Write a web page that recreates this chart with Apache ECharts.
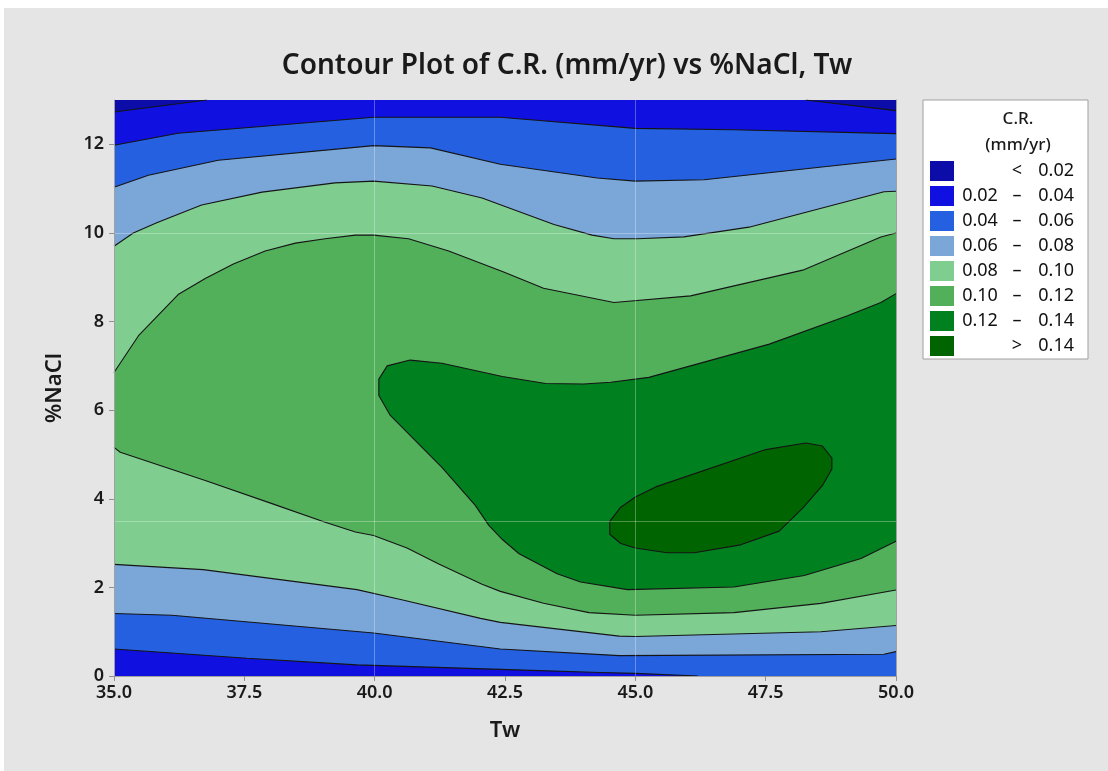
<!DOCTYPE html>
<html><head><meta charset="utf-8">
<script src="https://cdn.jsdelivr.net/npm/echarts@6/dist/echarts.min.js"></script>
<style>html,body{margin:0;padding:0;background:#fff}#c{width:1108px;height:771px}</style>
</head><body><div id="c"></div>
<script>
const chartTitle = 'Contour Plot of C.R. (mm/yr) vs %NaCl, Tw';
const xName = 'Tw', yName = '%NaCl';
const legendTitle = 'C.R.\n(mm/yr)';
const xRange = [35, 50], xStep = 2.5;
const yRange = [0, 13], yStep = 2;
const refX = [40, 45], refY = [10, 3.5];
const bandLabels = [['\u00a0','<','0.02'],['0.02','–','0.04'],['0.04','–','0.06'],['0.06','–','0.08'],
  ['0.08','–','0.10'],['0.10','–','0.12'],['0.12','–','0.14'],['\u00a0','>','0.14']];
const bandColors = ['#0c0ca8','#1010e0','#2460e0','#7ba6d8','#80cd90','#52b05b','#00801f','#006400'];

// contour lines: [Tw, %NaCl]
const c02a = [[35,12.73],[36.78,13]];
const c02b = [[48.27,13],[50,12.76]];
const c04top = [[35,11.98],[36.23,12.25],[38,12.42],[39.98,12.61],[42.41,12.61],[45.0,12.36],[46.89,12.33],[50,12.24]];
const c04bot = [[35,0.61],[37.55,0.40],[39.66,0.25],[42.41,0.15],[44.33,0.08],[45,0.06],[46.2,0]];
const c06top = [[35,11.03],[35.66,11.30],[37.0,11.64],[39.98,11.97],[41.07,11.92],[42.41,11.55],[44.27,11.24],[45.0,11.17],[46.32,11.20],[50,11.67]];
const c06bot = [[35,1.41],[36.11,1.37],[39.98,0.97],[42.41,0.61],[44.69,0.46],[49.77,0.49],[50,0.55]];
const c08top = [[35,9.70],[35.37,10.0],[35.82,10.23],[36.68,10.63],[37.84,10.92],[39.24,11.13],[39.98,11.17],[41.10,11.06],[42.06,10.79],[42.45,10.62],[43.44,10.19],[44.17,9.95],[44.59,9.87],[45.04,9.87],[45.93,9.91],[47.18,10.13],[49.77,10.93],[50,10.94]];
const c08bot = [[35,2.52],[36.71,2.40],[39.66,1.95],[40.56,1.71],[42.03,1.30],[42.41,1.21],[44.69,0.90],[45,0.89],[48.56,1.0],[50,1.14]];
const c10top = [[35,6.85],[35.47,7.68],[36.23,8.61],[36.75,8.97],[37.29,9.30],[37.90,9.59],[38.48,9.77],[39.05,9.87],[39.63,9.95],[39.98,9.95],[40.65,9.87],[41.42,9.59],[42.45,9.13],[43.24,8.75],[44.59,8.43],[46.06,8.58],[48.21,9.16],[49.71,9.91],[50,10.0]];
const c10bot = [[35,5.16],[35.12,5.05],[36.75,4.41],[38.03,3.89],[39.05,3.47],[39.63,3.25],[39.98,3.17],[40.62,2.89],[41.23,2.53],[42.06,2.07],[42.41,1.91],[43.24,1.64],[44.11,1.43],[45.0,1.37],[46.89,1.43],[48.56,1.64],[50,1.94]];
const c12 = [[50,8.63],[49.71,8.43],[49.07,8.13],[47.57,7.49],[45.26,6.74],[44.53,6.63],[44.01,6.59],[43.28,6.60],[42.45,6.76],[41.29,7.06],[40.68,7.13],[40.24,7.0],[40.08,6.70],[40.08,6.33],[40.30,5.88],[41.29,4.71],[41.93,3.85],[42.19,3.40],[42.45,3.08],[42.77,2.76],[43.50,2.31],[43.95,2.12],[44.85,1.95],[46.89,2.01],[48.24,2.27],[49.33,2.65],[50,3.04]];
const c14 = [[44.51,3.49],[44.72,3.81],[45,4.04],[45.42,4.28],[47.50,5.11],[48.27,5.26],[48.59,5.19],[48.77,4.92],[48.77,4.67],[48.59,4.30],[48.21,3.79],[47.76,3.27],[47.02,2.96],[46.13,2.78],[45.61,2.78],[45,2.89],[44.72,2.99],[44.51,3.20],[44.51,3.49]];

const rev = a => a.slice().reverse();
const fills = [
  [[xRange[0],yRange[0]],[xRange[1],yRange[0]],[xRange[1],yRange[1]],[xRange[0],yRange[1]]],
  [[xRange[0],yRange[0]],[xRange[1],yRange[0]]].concat(rev(c02b), rev(c02a)),
  c04top.concat([[xRange[1],yRange[0]]], rev(c04bot)),
  c06top.concat(rev(c06bot)),
  c08top.concat(rev(c08bot)),
  c10top.concat(rev(c10bot)),
  c12,
  c14
];
const contourLines = [c02a,c02b,c04top,c04bot,c06top,c06bot,c08top,c08bot,c10top,c10bot,c12,c14];
const names = bandLabels.map(l => l.join(' ').trim());

const FONT = '"Noto Sans", "Open Sans", sans-serif';
const series = [];
fills.forEach((pts, i) => {
  series.push({
    type: 'custom', name: names[i], coordinateSystem: 'cartesian2d',
    data: pts, silent: true, z: 2,
    itemStyle: { color: bandColors[i] },
    renderItem: (params, api) => {
      if (params.dataIndex !== 0) return null;
      return { type: 'polygon', shape: { points: pts.map(p => api.coord(p)) },
               style: { fill: bandColors[i], stroke: null } };
    }
  });
});
series.push({
  type: 'line', data: [], symbol: 'none', silent: true, z: 3,
  markLine: {
    silent: true, symbol: 'none', label: { show: false },
    lineStyle: { color: 'rgba(255,255,255,0.3)', type: 'solid', width: 1 },
    data: refX.map(v => ({ xAxis: v })).concat(refY.map(v => ({ yAxis: v })))
  }
});
contourLines.forEach(l => series.push({
  type: 'line', data: l, symbol: 'none', silent: true, z: 4,
  lineStyle: { color: '#151515', width: 1.1 }
}));

const chart = echarts.init(document.getElementById('c'));
chart.setOption({
  animation: false,
  backgroundColor: '#fff',
  graphic: [{ type: 'rect', left: 4, top: 8, shape: { width: 1104, height: 763 }, style: { fill: '#e5e5e5' }, z: -10 }],
  title: [
    { text: chartTitle, left: 562, top: 47, textAlign: 'center',
      textStyle: { fontFamily: FONT, fontSize: 28, fontWeight: 600, color: '#1a1a1a' } },
    { text: legendTitle, left: 1018, top: 106, textAlign: 'center', padding: 0,
      textStyle: { fontFamily: FONT, fontSize: 17, fontWeight: 500, color: '#1a1a1a', lineHeight: 26 } }
  ],
  grid: { left: 114, right: 212, top: 100, bottom: 95, containLabel: false },
  legend: {
    orient: 'vertical', left: 923, top: 100, padding: [61, 14, 3, 7],
    backgroundColor: '#fff', borderColor: '#a0a0a0', borderWidth: 1,
    itemWidth: 24, itemHeight: 20, itemGap: 5, selectedMode: false,
    data: names.map(n => ({ name: n, icon: 'rect' })),
    formatter: name => { const [a, b, c] = bandLabels[names.indexOf(name)]; return `{a|${a}}{b|${b}}{c|${c}}`; },
    textStyle: {
      fontFamily: FONT, fontSize: 18, color: '#111', lineHeight: 20,
      rich: {
        a: { width: 42, align: 'right', fontFamily: FONT, fontSize: 18, lineHeight: 20, color: '#111' },
        b: { width: 32, align: 'center', fontFamily: FONT, fontSize: 18, lineHeight: 20, color: '#111' },
        c: { width: 41, align: 'right', fontFamily: FONT, fontSize: 18, lineHeight: 20, color: '#111' }
      }
    }
  },
  xAxis: [
    { type: 'value', min: xRange[0], max: xRange[1], interval: xStep, z: 10,
      name: xName, nameLocation: 'middle', nameGap: 44,
      nameTextStyle: { fontFamily: FONT, fontSize: 22, fontWeight: 600, color: '#1a1a1a' },
      axisLine: { show: true, lineStyle: { color: '#a0a0a0' } },
      axisTick: { show: true, length: 5, lineStyle: { color: '#909090' } },
      axisLabel: { margin: 8, fontFamily: FONT, fontSize: 18, fontWeight: 600, color: '#1a1a1a',
        formatter: v => v.toFixed(1) },
      splitLine: { show: false } },
    { type: 'value', position: 'top', min: xRange[0], max: xRange[1], z: 10,
      axisLine: { show: true, lineStyle: { color: '#a0a0a0' } },
      axisTick: { show: false }, axisLabel: { show: false }, splitLine: { show: false } }
  ],
  yAxis: [
    { type: 'value', min: yRange[0], max: yRange[1], interval: yStep, z: 10,
      name: yName, nameLocation: 'middle', nameGap: 48,
      nameTextStyle: { fontFamily: FONT, fontSize: 22, fontWeight: 600, color: '#1a1a1a' },
      axisLine: { show: true, lineStyle: { color: '#a0a0a0' } },
      axisTick: { show: true, length: 5, lineStyle: { color: '#909090' } },
      axisLabel: { margin: 10, fontFamily: FONT, fontSize: 18, fontWeight: 600, color: '#1a1a1a',
        showMaxLabel: false },
      splitLine: { show: false } },
    { type: 'value', position: 'right', min: yRange[0], max: yRange[1], z: 10,
      axisLine: { show: true, lineStyle: { color: '#a0a0a0' } },
      axisTick: { show: false }, axisLabel: { show: false }, splitLine: { show: false } }
  ],
  series: series
});
</script></body></html>
